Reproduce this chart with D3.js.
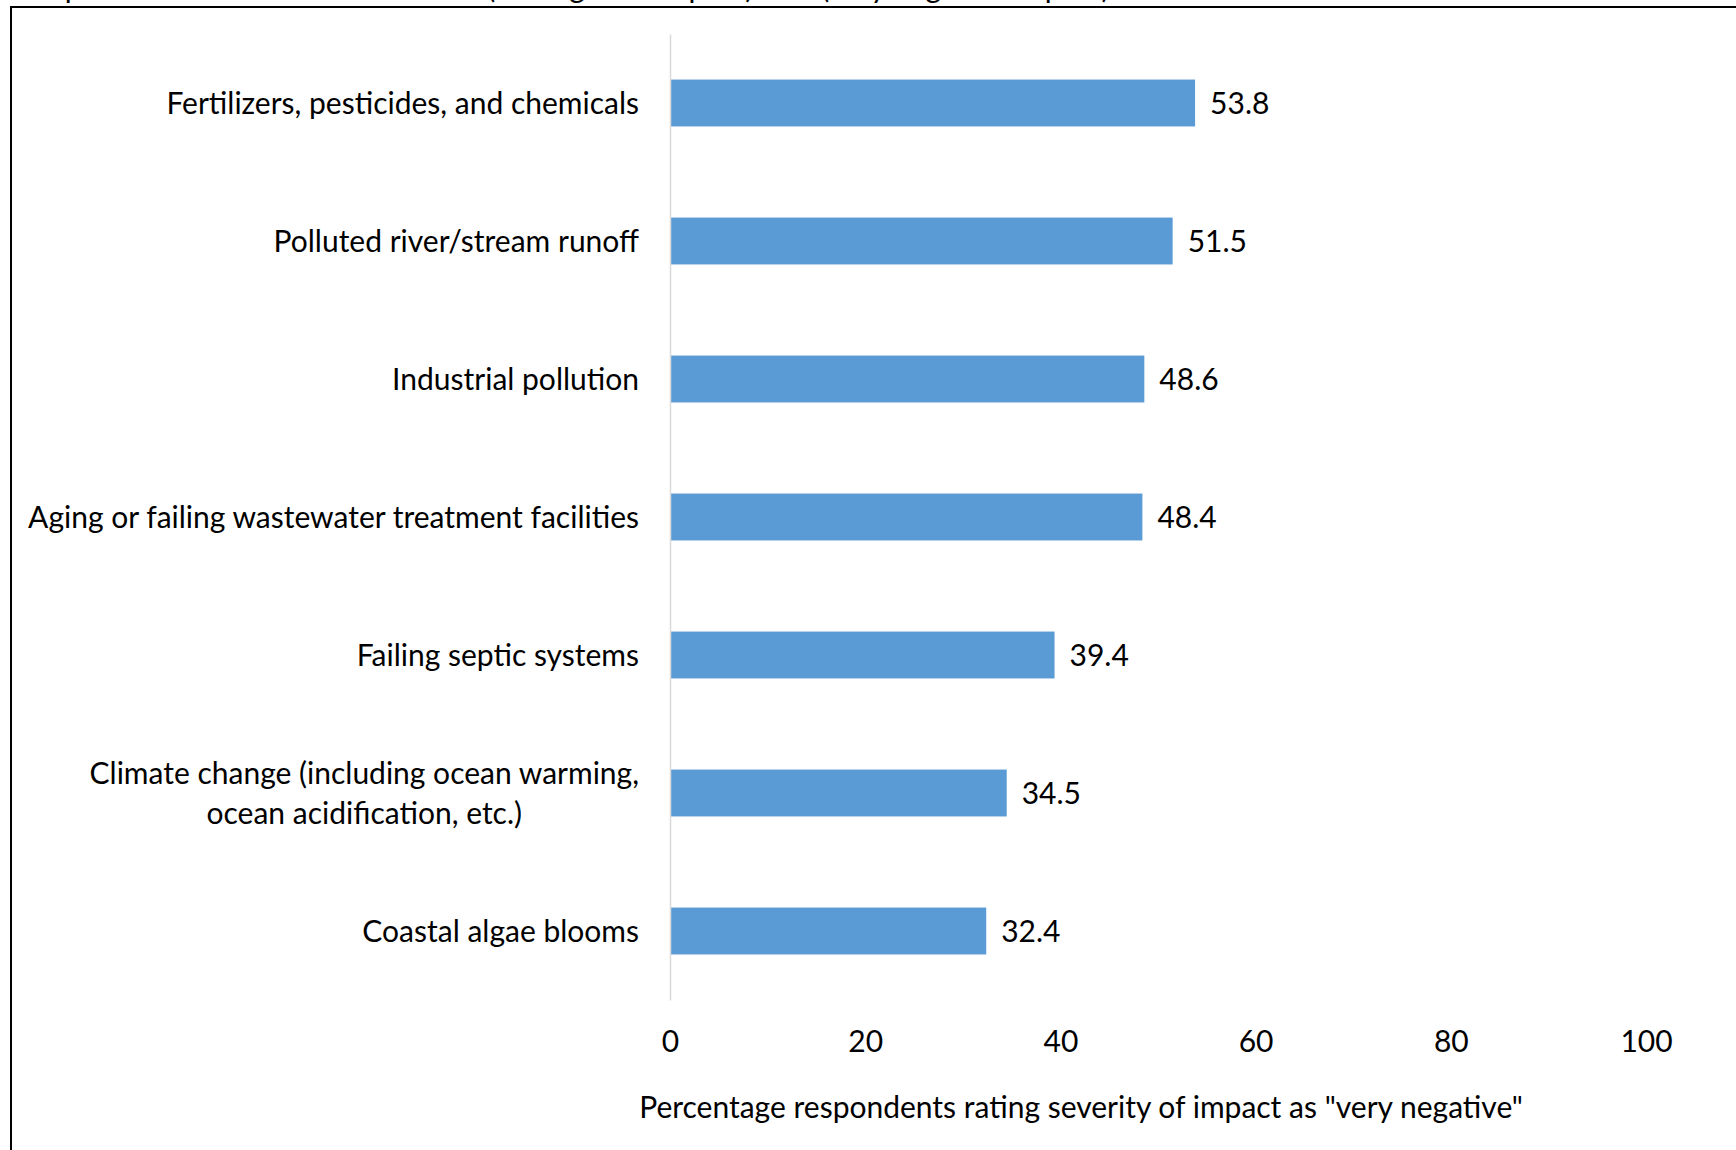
<!DOCTYPE html>
<html>
<head>
<meta charset="utf-8">
<script src="https://cdn.jsdelivr.net/npm/d3@7"></script>
<style>
	body { margin: 0; background: #fff; }
	svg { display: block; font-family: Lato, "Open Sans", sans-serif; }
</style>
</head>
<body>
<div id="chart"></div>
<script>

// data
var categories = [
	"Fertilizers, pesticides, and chemicals",
	"Polluted river/stream runoff",
	"Industrial pollution",
	"Aging or failing wastewater treatment facilities",
	"Failing septic systems",
	"Climate change (including ocean warming,\nocean acidification, etc.)",
	"Coastal algae blooms"
];
var values = [53.8, 51.5, 48.6, 48.4, 39.4, 34.5, 32.4];
var xTicks = [0, 20, 40, 60, 80, 100];
var axisTitle = "Percentage respondents rating severity of impact as \"very negative\"";
var topNote = "Impacts were rated on a scale of 1 (no negative impact) to 5 (very negative impact).";

var width = 1736, height = 1150;
var fontSize = 30;

var svg = d3.select("#chart")
	.append("svg")
	.attr("width", width)
	.attr("height", height)
	.style("font-size", fontSize + "px");

// note above the frame, cut off by the top edge as in the source
svg.append("text")
	.attr("x", 32)
	.attr("y", -2)
	.text(topNote);

// frame
svg.append("rect")
	.attr("x", 11)
	.attr("y", 7)
	.attr("width", 1800)
	.attr("height", 1300)
	.attr("fill", "none")
	.attr("stroke", "#000")
	.attr("stroke-width", 2);

var x = d3.scaleLinear()
	.domain([0, 100])
	.range([670, 1646]);

var y = d3.scaleBand()
	.domain(categories)
	.range([34, 1000])
	.paddingInner(0.66)
	.paddingOuter(0.33);

// bars
svg.selectAll(".bar")
	.data(values)
	.enter()
	.append("rect")
	.attr("class", "bar")
	.attr("x", x(0))
	.attr("y", function(d, i) { return y(categories[i]); })
	.attr("width", function(d) { return x(d) - x(0); })
	.attr("height", y.bandwidth())
	.attr("fill", "#5B9BD5");

// value labels
svg.selectAll(".val")
	.data(values)
	.enter()
	.append("text")
	.attr("class", "val")
	.attr("x", function(d) { return x(d) + 15; })
	.attr("y", function(d, i) { return y(categories[i]) + y.bandwidth() / 2; })
	.attr("dy", "0.37em")
	.text(function(d) { return d.toFixed(1); });

// category axis
var yAxis = svg.append("g")
	.attr("transform", "translate(" + x(0) + ",0)")
	.call(d3.axisLeft(y).tickSize(0).tickPadding(31).tickSizeOuter(0))
	.attr("font-family", null)
	.attr("font-size", null);

yAxis.select(".domain").attr("stroke", "#D9D9D9").attr("stroke-width", 1.5);
yAxis.selectAll("text")
	.attr("fill", "#000")
	.attr("dy", "0.37em")
	.each(function(d) {
		var lines = d.split("\n");
		if (lines.length < 2) return;
		var t = d3.select(this).text(null).attr("dy", null);
		var spans = lines.map(function(line, i) {
			return t.append("tspan")
				.attr("dy", i === 0 ? (0.37 - 0.67 * (lines.length - 1)) + "em" : "1.34em")
				.text(line);
		});
		var maxW = d3.max(spans, function(s) { return s.node().getComputedTextLength(); });
		t.attr("text-anchor", "middle");
		spans.forEach(function(s) { s.attr("x", -31 - maxW / 2); });
	});

// value axis, labels only
var xAxis = svg.append("g")
	.attr("transform", "translate(0,1000)")
	.call(d3.axisBottom(x).tickValues(xTicks).tickSize(0).tickPadding(31))
	.attr("font-family", null)
	.attr("font-size", null);

xAxis.select(".domain").remove();
xAxis.selectAll("text").attr("fill", "#000");

svg.append("text")
	.attr("x", 1081)
	.attr("y", 1107)
	.attr("dy", "0.37em")
	.attr("text-anchor", "middle")
	.text(axisTitle);

</script>
</body>
</html>
